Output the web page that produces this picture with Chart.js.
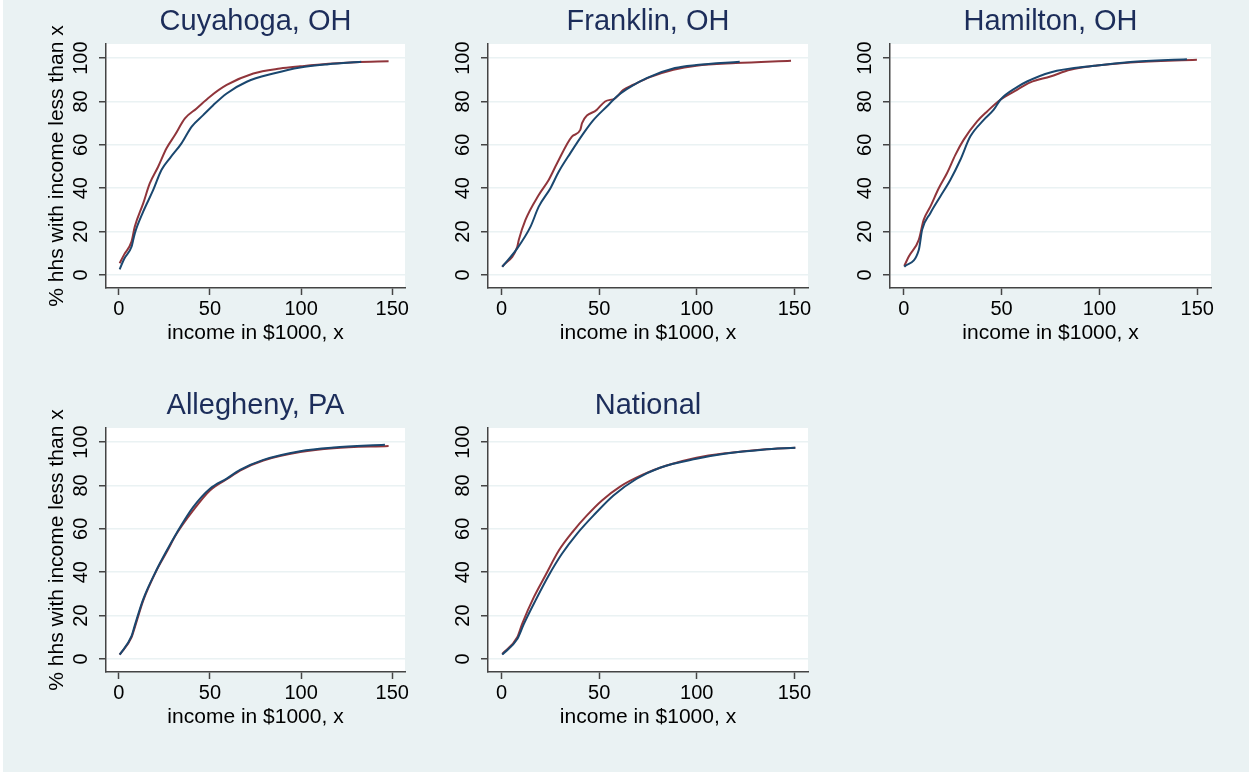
<!DOCTYPE html>
<html>
<head>
<meta charset="utf-8">
<script src="https://cdn.jsdelivr.net/npm/chart.js@4.4.1/dist/chart.umd.min.js"></script>
<style>
html, body { margin: 0; padding: 0; background: #fff; }
#graph { position: absolute; left: 3px; top: 0; width: 1246px; height: 772px; background: #EAF2F3; }
canvas { position: absolute; }
</style>
</head>
<body>
<div id="graph"></div>
<canvas id="c1" width="420" height="365" style="left:0;top:0"></canvas>
<canvas id="c2" width="410" height="365" style="left:420px;top:0"></canvas>
<canvas id="c3" width="419" height="365" style="left:830px;top:0"></canvas>
<canvas id="c4" width="420" height="365" style="left:0;top:384px"></canvas>
<canvas id="c5" width="410" height="365" style="left:420px;top:384px"></canvas>
<script>
// axis ticks
const xTicks = [0, 50, 100, 150];
const yTicks = [0, 20, 40, 60, 80, 100];

// Cuyahoga, OH
const cuyBlueX = [0.5, 3, 7, 8.8, 13.4, 18.9, 23.4, 28, 34.4, 39.9, 46.3, 51.8, 59.2, 70.2, 84.8, 99.5, 115, 133];
const cuyBlueY = [2.6, 7.5, 13, 19.2, 29.2, 39.2, 48.4, 53.8, 60.7, 68.3, 73.7, 78.3, 83.7, 89.1, 92.9, 95.7, 97.2, 98.3];
const cuyRedX = [0.5, 3, 7, 8.8, 13.4, 17, 21.6, 26.2, 30.8, 36.3, 42.7, 50, 59.2, 73.8, 88.5, 99.5, 115, 130, 148];
const cuyRedY = [5.4, 9.5, 15.4, 22.3, 33, 42.2, 49.9, 58.4, 64.5, 72.2, 76.8, 82.2, 87.6, 92.9, 95.2, 96.2, 97.4, 98.1, 98.5];

// Franklin, OH
const frBlueX = [0.3, 8, 14.8, 19, 25, 29.3, 35.2, 42, 47.1, 53.9, 59, 64.1, 74.3, 88.8, 99.8, 122];
const frBlueY = [3.8, 12.3, 22.3, 31.5, 40, 47.7, 56.2, 65.4, 71.5, 77.7, 82.3, 85.7, 90.8, 95.4, 96.8, 98.3];
const frRedX = [0.3, 8, 8.8, 12.2, 19, 24.1, 28.4, 36, 40.3, 41.2, 48.8, 53, 58.2, 62.4, 67.5, 76, 88, 99.8, 120, 148.3];
const frRedY = [3.8, 13, 16.2, 25.4, 36.9, 43.8, 51.5, 63.8, 66.9, 70, 76.2, 80, 81.5, 85.4, 87.7, 91.2, 94.6, 96.5, 97.7, 98.8];

// Hamilton, OH
const hamBlueX = [0.3, 7.7, 9.4, 13.6, 18.7, 23.8, 28.9, 34, 40.9, 46, 49.4, 57.9, 63, 74.9, 98.8, 115.8, 144.7];
const hamBlueY = [3.8, 11.5, 20.8, 28.5, 36.2, 43.8, 53, 63.8, 71.5, 76.2, 80.8, 86.6, 89.2, 93.4, 96.6, 98.2, 99.5];
const hamRedX = [0.3, 2.6, 7.7, 10.2, 13.6, 17.9, 22.1, 26.4, 30.6, 37.5, 42.6, 49.4, 57.9, 64.7, 74.9, 85.1, 98.8, 115.8, 149.8];
const hamRedY = [4.2, 8.5, 16.2, 25.4, 31.5, 40, 46.9, 55.4, 62.3, 70.8, 75.4, 80.8, 85.4, 88.8, 91.5, 94.6, 96.6, 98, 99.2];

// Allegheny, PA
const allBlueX = [0.5, 7, 8.8, 13.4, 20.7, 26.2, 31.7, 40.8, 50, 59.2, 66.5, 79.3, 99.5, 117.8, 146];
const allBlueY = [2, 10.5, 15.5, 27.5, 41, 49.8, 58, 70, 78.5, 83.2, 87.2, 91.8, 95.8, 97.5, 98.8];
const allRedX = [0.5, 7, 8.8, 13.4, 20.7, 26.2, 31.7, 40.8, 50, 61, 66.5, 79.3, 99.5, 117.8, 148];
const allRedY = [2, 10, 14.6, 26.9, 40.8, 49.2, 57.7, 68.5, 77.7, 83.8, 86.9, 91.5, 95.4, 97.2, 98.2];

// National
const natBlueX = [0.3, 8, 11.4, 17.3, 24.1, 30.9, 38.6, 47.1, 57.3, 69.2, 81.1, 99.8, 115.1, 133.8, 150.5];
const natBlueY = [2, 9.2, 16.2, 26.9, 38.5, 48.5, 57.7, 66.2, 75.4, 83.1, 88.2, 92.3, 94.7, 96.5, 97.4];
const natRedX = [0.3, 8, 10.5, 16.5, 22.4, 29.3, 36.9, 43.7, 51.4, 60.7, 72.6, 84.5, 99.8, 115.1, 133.8, 150.5];
const natRedY = [2.3, 10, 16.2, 28.5, 38.5, 50, 59.2, 66.2, 73.1, 79.5, 85.1, 89.2, 92.8, 94.9, 96.6, 97.4];

const FONT = 'Liberation Sans, Arial, sans-serif';

function toPoints(xs, ys) {
    return xs.map((x, i) => ({ x: x, y: ys[i] }));
}

// white plot region behind the lines
const plotBg = {
    id: 'plotBg',
    beforeDraw(chart) {
        const { ctx, chartArea: a } = chart;
        ctx.save();
        ctx.fillStyle = '#ffffff';
        ctx.fillRect(a.left, a.top, a.right - a.left, a.bottom - a.top);
        ctx.restore();
    },
};

function makePanel(id, title, yWidth, padRight, showYTitle, bx, by, rx, ry) {
    const ctx = document.getElementById(id).getContext('2d');
    return new Chart(ctx, {
        type: 'line',
        data: {
            datasets: [
                { data: toPoints(bx, by), borderColor: '#1a476f', borderWidth: 2, pointRadius: 0, cubicInterpolationMode: 'monotone' },
                { data: toPoints(rx, ry), borderColor: '#90353b', borderWidth: 2, pointRadius: 0, cubicInterpolationMode: 'monotone' },
            ],
        },
        options: {
            responsive: false,
            animation: false,
            layout: { padding: { left: 0, right: padRight, top: 0, bottom: 0 } },
            plugins: {
                legend: { display: false },
                tooltip: { enabled: false },
                title: {
                    display: true,
                    text: title,
                    fullSize: false,
                    color: '#1c2d5a',
                    font: { family: FONT, size: 29, weight: 'normal', lineHeight: 1.2 },
                    padding: { top: 4.5, bottom: 4.7 },
                },
            },
            scales: {
                x: {
                    type: 'linear',
                    min: -7,
                    max: 157,
                    afterBuildTicks: (s) => { s.ticks = xTicks.map(v => ({ value: v })); },
                    afterFit: (s) => { s.height = 77; },
                    grid: { drawOnChartArea: false, drawTicks: true, tickLength: 7, tickColor: '#444', tickWidth: 1.5 },
                    border: { display: true, color: '#444', width: 1.5 },
                    ticks: { color: '#000', padding: 2, maxRotation: 0, autoSkip: false, font: { family: FONT, size: 20 } },
                    title: {
                        display: true,
                        text: 'income in $1000, x',
                        color: '#000',
                        font: { family: FONT, size: 21, lineHeight: 1.2 },
                        padding: { top: 0, bottom: 19 },
                    },
                },
                y: {
                    type: 'linear',
                    min: -6,
                    max: 106.5,
                    afterBuildTicks: (s) => { s.ticks = yTicks.map(v => ({ value: v })); },
                    afterFit: (s) => { s.width = yWidth; },
                    grid: { color: '#eaf2f3', lineWidth: 1.5, tickLength: 7, tickColor: '#444', tickWidth: 1.5 },
                    border: { display: true, color: '#444', width: 1.5 },
                    ticks: {
                        color: '#000', padding: 1, minRotation: 90, maxRotation: 90, crossAlign: 'center',
                        autoSkip: false, font: { family: FONT, size: 20 },
                    },
                    title: {
                        display: showYTitle,
                        text: '% hhs with income less than x',
                        color: '#000',
                        font: { family: FONT, size: 21, lineHeight: 1.2 },
                        padding: { top: 45, bottom: 0 },
                    },
                },
            },
        },
        plugins: [plotBg],
    });
}

makePanel('c1', 'Cuyahoga, OH', 106, 15, true, cuyBlueX, cuyBlueY, cuyRedX, cuyRedY);
makePanel('c2', 'Franklin, OH', 68, 22, false, frBlueX, frBlueY, frRedX, frRedY);
makePanel('c3', 'Hamilton, OH', 60, 38, false, hamBlueX, hamBlueY, hamRedX, hamRedY);
makePanel('c4', 'Allegheny, PA', 106, 15, true, allBlueX, allBlueY, allRedX, allRedY);
makePanel('c5', 'National', 68, 22, false, natBlueX, natBlueY, natRedX, natRedY);
</script>
</body>
</html>
